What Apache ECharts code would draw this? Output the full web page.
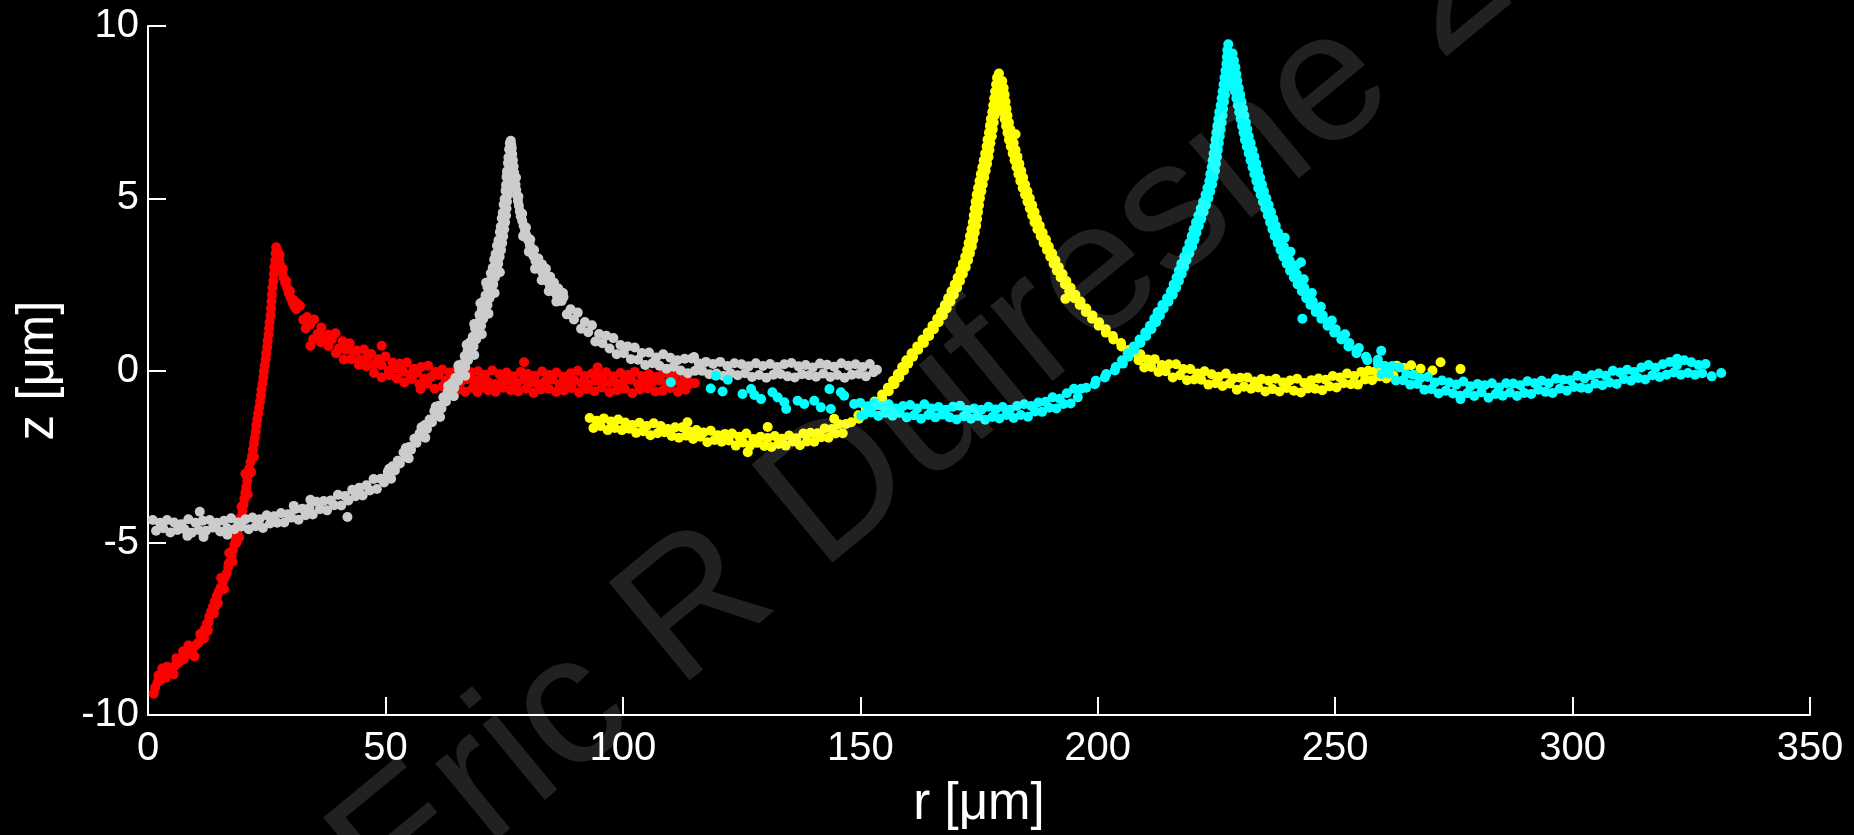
<!DOCTYPE html>
<html>
<head>
<meta charset="utf-8">
<title>z vs r</title>
<script src="https://cdn.jsdelivr.net/npm/echarts@6/dist/echarts.min.js"></script>
<style>
  html, body { margin: 0; padding: 0; background: #000; }
  #chart { width: 1854px; height: 835px; }
</style>
</head>
<body>
<div id="chart"></div>
<script>
// tick values
var rTicks = [0, 50, 100, 150, 200, 250, 300, 350];
var zTicks = [-10, -5, 0, 5, 10];

// ---- red particle: [r, z] in um ----
var redRise = [[1.2,-9.38],[1.5,-9.2],[2.0,-9.05],[2.2,-8.85],[2.6,-8.98],[3.1,-8.85],[3.7,-8.92],[4.0,-8.6],[4.3,-8.72],[5.0,-8.66],[5.6,-8.58],[6.0,-8.35],[6.3,-8.5],[6.9,-8.42],[7.5,-8.38],[8.1,-8.25],[8.5,-7.98],[8.8,-8.15],[9.4,-8.08],[10.0,-7.98],[10.6,-7.9],[11.0,-7.65],[11.2,-7.78],[11.6,-7.6],[12.0,-7.5],[12.4,-7.35],[12.8,-7.3],[12.9,-7.15],[13.3,-7.0],[13.7,-6.85],[14.1,-6.7],[14.2,-6.85],[14.5,-6.55],[14.9,-6.42],[15.3,-6.3],[15.6,-6.3],[15.8,-6.12],[16.2,-6.0],[16.6,-5.88],[16.9,-5.7],[17.0,-5.6],[17.3,-5.55],[17.6,-5.4],[17.9,-5.22],[18.2,-5.05],[18.5,-4.9],[18.6,-5.0],[18.8,-4.75],[19.0,-4.58],[19.3,-4.42],[19.6,-4.25],[19.9,-4.08],[20.1,-3.9],[20.3,-3.72],[20.5,-3.55],[20.7,-3.38],[20.9,-3.2],[21.1,-3.02],[21.3,-2.85],[21.6,-2.66],[21.9,-2.48],[22.1,-2.3],[22.3,-2.12],[22.5,-1.95],[22.7,-1.78],[22.8,-1.6],[23.0,-1.42],[23.2,-1.25],[23.4,-1.08],[23.6,-0.9],[23.8,-0.72],[23.9,-0.55],[24.1,-0.38],[24.3,-0.2],[24.4,-0.03],[24.6,0.15],[24.8,0.33],[24.9,0.5],[25.1,0.68],[25.2,0.86],[25.4,1.04],[25.5,1.22],[25.6,1.4],[25.8,1.6],[25.9,1.8],[26.0,2.0],[26.1,2.2],[26.2,2.4],[26.4,2.6],[26.5,2.8],[26.6,3.0],[26.8,3.2],[26.9,3.4],[27.0,3.58]];
var redRiseSide = [[3.0,-8.65],[5.4,-8.82],[7.4,-8.15],[9.8,-8.3],[11.8,-7.78],[12.6,-7.55],[14.7,-6.75],[13.9,-7.05],[16.0,-6.35],[15.4,-6.02],[17.8,-5.55],[17.1,-5.3],[19.2,-4.85],[18.5,-4.6],[20.3,-4.3],[19.7,-3.95],[21.0,-3.6],[20.5,-3.0],[21.7,-2.95],[22.3,-2.5]];
var redPeak = [[27.3,3.45],[27.7,3.35],[27.6,3.2],[27.9,3.05],[28.2,2.85],[28.4,2.95],[28.5,2.7],[28.9,2.55],[29.1,2.6],[29.3,2.4],[29.6,2.25],[29.9,2.3],[30.0,2.12],[30.4,1.98],[30.6,2.05],[30.8,1.88],[31.2,1.78],[31.4,1.95]];
var redUpper = [[32,1.87],[33.5,1.55],[35,1.48],[36.5,1.25],[38,1.04],[39.5,1.08],[41,0.85],[42.5,0.79],[44,0.58],[45.5,0.61],[47,0.48],[48.5,0.33],[50,0.41],[51.5,0.23],[53,0.2],[54.5,0.23],[56,0.05],[57.5,0.1],[59,0.14],[60.5,-0.04],[62,0.03],[63.5,-0.06],[65,0.03],[66.5,-0.11],[68,-0.05],[69.5,-0.02],[71,-0.12],[72.5,0],[74,-0.11],[75.5,-0.06],[77,-0.17],[78.5,-0.04],[80,-0.1],[81.5,-0.15],[83,-0.03],[84.5,-0.13],[86,-0.06],[87.5,-0.18],[89,-0.08],[90.5,-0.01],[92,-0.16],[93.5,-0.09],[95,-0.14],[96.5,-0.05],[98,-0.17],[99.5,-0.07],[101,-0.13],[102.5,-0.04],[104,-0.16],[105.5,-0.1],[107,-0.19],[108.5,-0.08],[110,-0.14],[111.5,-0.1],[113,-0.18]];
var redMid = [[32.7,1.47],[34.2,1.34],[35.7,1.06],[37.2,0.98],[38.7,0.91],[40.2,0.64],[41.7,0.6],[43.2,0.53],[44.7,0.32],[46.2,0.38],[47.7,0.18],[49.2,0.16],[50.7,-0.01],[52.2,0.06],[53.7,-0.03],[55.2,-0.12],[56.7,-0.06],[58.2,-0.23],[59.7,-0.18],[61.2,-0.13],[62.7,-0.3],[64.2,-0.23],[65.7,-0.37],[67.2,-0.25],[68.7,-0.3],[70.2,-0.25],[71.7,-0.34],[73.2,-0.39],[74.7,-0.27],[76.2,-0.3],[77.7,-0.37],[79.2,-0.25],[80.7,-0.34],[82.2,-0.39],[83.7,-0.3],[85.2,-0.26],[86.7,-0.41],[88.2,-0.32],[89.7,-0.28],[91.2,-0.36],[92.7,-0.39],[94.2,-0.29],[95.7,-0.24],[97.2,-0.35],[98.7,-0.38],[100.2,-0.31],[101.7,-0.27],[103.2,-0.4],[104.7,-0.3],[106.2,-0.34],[107.7,-0.28],[109.2,-0.37],[110.7,-0.31],[112.2,-0.39],[113.7,-0.29],[115.2,-0.37]];
var redLower = [[33.2,1.22],[34.8,0.91],[36.4,0.82],[38,0.71],[39.6,0.5],[41.2,0.32],[42.8,0.33],[44.4,0.16],[46,0.12],[47.6,-0.07],[49.2,-0.2],[50.8,-0.14],[52.4,-0.23],[54,-0.35],[55.6,-0.25],[57.2,-0.4],[58.8,-0.38],[60.4,-0.53],[62,-0.46],[63.6,-0.45],[65.2,-0.56],[66.8,-0.62],[68.4,-0.51],[70,-0.49],[71.6,-0.57],[73.2,-0.62],[74.8,-0.5],[76.4,-0.57],[78,-0.61],[79.6,-0.52],[81.2,-0.65],[82.8,-0.55],[84.4,-0.53],[86,-0.62],[87.6,-0.58],[89.2,-0.51],[90.8,-0.64],[92.4,-0.54],[94,-0.6],[95.6,-0.49],[97.2,-0.63],[98.8,-0.57],[100.4,-0.53],[102,-0.66],[103.6,-0.55],[105.2,-0.52],[106.8,-0.61],[108.4,-0.59],[110,-0.51],[111.6,-0.62],[113.2,-0.56]];
var redStray = [[34.2,0.72],[49.2,0.72],[57.4,-0.54],[69.4,-0.63],[79.2,0.24],[94.7,0.09],[110,-0.48],[114,-0.4]];

// ---- grey particle ----
var greyFlatA = [[1,-4.34],[2.5,-4.42],[4,-4.34],[5.5,-4.41],[7,-4.46],[8.5,-4.32],[10,-4.42],[11.5,-4.36],[13,-4.34],[14.5,-4.42],[16,-4.36],[17.5,-4.29],[19,-4.41],[20.5,-4.32],[22,-4.27],[23.5,-4.32],[25,-4.2],[26.5,-4.23],[28,-4.14],[29.5,-4.17],[31,-4.02],[32.5,-4.01],[34,-3.99],[35.5,-3.81],[37,-3.79],[38.5,-3.77],[40,-3.61],[41.5,-3.64],[43,-3.46],[44.5,-3.4],[46,-3.33],[47.5,-3.15],[49,-3.14],[50.5,-2.94]];
var greyFlatB = [[1.7,-4.65],[3.2,-4.58],[4.7,-4.7],[6.2,-4.63],[7.7,-4.61],[9.2,-4.71],[10.7,-4.63],[12.2,-4.65],[13.7,-4.56],[15.2,-4.67],[16.7,-4.58],[18.2,-4.61],[19.7,-4.53],[21.2,-4.61],[22.7,-4.52],[24.2,-4.57],[25.7,-4.44],[27.2,-4.42],[28.7,-4.41],[30.2,-4.27],[31.7,-4.33],[33.2,-4.2],[34.7,-4.18],[36.2,-4.03],[37.7,-4.06],[39.2,-3.91],[40.7,-3.92],[42.2,-3.77],[43.7,-3.65],[45.2,-3.63],[46.7,-3.48],[48.2,-3.44],[49.7,-3.25],[51.2,-3.14]];
var greyRiseA = [[50.5,-3.0],[51.5,-2.78],[52.6,-2.62],[53.8,-2.38],[55.0,-2.22],[56.1,-1.98],[57.2,-1.82],[58.3,-1.58],[59.3,-1.42],[60.3,-1.18],[61.3,-1.02],[62.2,-0.78],[63.1,-0.62],[63.9,-0.38],[64.7,-0.22],[65.5,0.02],[66.1,0.18],[66.7,0.42],[67.3,0.58],[67.8,0.82],[68.4,0.98],[68.9,1.22],[69.4,1.38],[69.8,1.62],[70.3,1.78],[70.7,2.02],[71.1,2.18],[71.5,2.42],[71.9,2.58],[72.2,2.82],[72.6,2.98],[72.9,3.22],[73.2,3.38],[73.5,3.62],[73.8,3.78],[74.1,4.02],[74.3,4.18],[74.5,4.42],[74.7,4.58],[74.9,4.82],[75.1,4.98],[75.3,5.22],[75.4,5.38],[75.5,5.62],[75.6,5.78],[75.8,6.02],[75.9,6.18],[76.05,6.42],[76.2,6.6]];
var greyRiseB = [[52.0,-2.9],[53.05,-2.7],[54.2,-2.5],[55.4,-2.3],[56.55,-2.1],[57.65,-1.9],[58.75,-1.7],[59.8,-1.5],[60.8,-1.3],[61.8,-1.1],[62.75,-0.9],[63.65,-0.7],[64.5,-0.5],[65.3,-0.3],[66.1,-0.1],[66.8,0.1],[67.4,0.3],[68.0,0.5],[68.55,0.7],[69.1,0.9],[69.65,1.1],[70.15,1.3],[70.6,1.5],[71.05,1.7],[71.5,1.9],[71.9,2.1],[72.3,2.3],[72.7,2.5],[73.05,2.7],[73.4,2.9],[73.75,3.1],[74.05,3.3],[74.35,3.5],[74.6,3.7],[74.8,3.9],[75.0,4.1],[75.2,4.3],[75.4,4.5],[75.5,4.7],[75.6,4.9],[75.8,5.1],[75.9,5.3],[76.0,5.5],[76.1,5.7],[76.2,5.9],[76.35,6.1],[76.4,6.3],[76.5,6.5],[76.4,6.67],[76.5,6.55]];
var greyRiseSide = [[50.8,-2.85],[54.9,-2.55],[54.3,-2.25],[58.4,-1.95],[57.6,-1.65],[61.5,-1.35],[60.6,-1.05],[64.4,-0.75],[63.2,-0.45],[66.8,-0.15],[65.4,0.15],[68.7,0.45],[67.1,0.75],[70.3,1.05],[68.7,1.35],[71.7,1.65],[70.0,1.95],[73.0,2.25],[71.2,2.55],[74.1,2.85]];
var greyFallNear = [[76.6,6.45],[76.7,6.28],[76.85,6.1],[77.0,5.92],[77.1,5.75],[77.25,5.58],[77.4,5.4],[77.55,5.24],[77.7,5.08],[77.9,4.92],[78.1,4.78],[78.3,4.62],[78.5,4.48],[78.8,4.35],[79.1,4.2],[79.4,4.05],[79.7,3.92],[80.0,3.8],[80.4,3.64],[80.8,3.48],[81.2,3.32],[81.6,3.18],[82.1,3.05],[82.6,2.94],[83.1,2.84],[83.6,2.74],[84.1,2.6],[84.6,2.48],[85.1,2.38],[85.6,2.28],[86.1,2.18],[86.6,2.1],[87.1,2.02],[77.5,5.6],[78.0,5.05],[78.8,4.55],[79.6,4.15],[80.5,3.8],[81.3,3.5],[82.2,3.25],[83.0,3.08],[83.8,2.95],[84.7,2.72],[85.5,2.55],[86.4,2.38],[87.4,2.25],[79.0,3.9],[80.2,3.45],[81.5,2.95],[82.9,2.62],[84.4,2.3],[86.0,2.0]];
var greyTailA = [[87.5,2.13],[89,1.78],[90.5,1.68],[92,1.41],[93.5,1.31],[95,1.06],[96.5,1.01],[98,0.94],[99.5,0.74],[101,0.7],[102.5,0.67],[104,0.51],[105.5,0.52],[107,0.38],[108.5,0.47],[110,0.37],[111.5,0.3],[113,0.34],[114.5,0.35],[116,0.2],[117.5,0.25],[119,0.19],[120.5,0.25],[122,0.13],[123.5,0.21],[125,0.18],[126.5,0.12],[128,0.21],[129.5,0.13],[131,0.19],[132.5,0.1],[134,0.18],[135.5,0.22],[137,0.12],[138.5,0.16],[140,0.09],[141.5,0.2],[143,0.17],[144.5,0.11],[146,0.21],[147.5,0.14],[149,0.18],[150.5,0.1],[152,0.19]];
var greyTailB = [[88.2,1.63],[89.7,1.48],[91.2,1.21],[92.7,1.11],[94.2,0.84],[95.7,0.79],[97.2,0.64],[98.7,0.47],[100.2,0.5],[101.7,0.33],[103.2,0.31],[104.7,0.16],[106.2,0.21],[107.7,0.14],[109.2,0.05],[110.7,0.11],[112.2,0],[113.7,-0.08],[115.2,-0.01],[116.7,-0.01],[118.2,-0.11],[119.7,-0.09],[121.2,-0.16],[122.7,-0.08],[124.2,-0.14],[125.7,-0.08],[127.2,-0.19],[128.7,-0.13],[130.2,-0.21],[131.7,-0.12],[133.2,-0.1],[134.7,-0.17],[136.2,-0.2],[137.7,-0.11],[139.2,-0.14],[140.7,-0.18],[142.2,-0.09],[143.7,-0.19],[145.2,-0.13],[146.7,-0.21],[148.2,-0.12],[149.7,-0.1],[151.2,-0.17],[153.5,0.02],[152.8,-0.05]];
var greyStray = [[10.9,-4.1],[30.7,-3.93],[34.2,-3.75],[8.3,-4.8],[11.7,-4.83],[16.7,-4.77],[42.0,-4.25],[115,0.39]];

// ---- yellow particle ----
var yellowFlatA = [[93,-1.38],[94.5,-1.46],[96,-1.39],[97.5,-1.48],[99,-1.42],[100.5,-1.51],[102,-1.58],[103.5,-1.52],[105,-1.61],[106.5,-1.53],[108,-1.61],[109.5,-1.7],[111,-1.65],[112.5,-1.65],[114,-1.77],[115.5,-1.73],[117,-1.8],[118.5,-1.75],[120,-1.88],[121.5,-1.84],[123,-1.83],[124.5,-1.92],[126,-1.83],[127.5,-1.99],[129,-1.92],[130.5,-1.96],[132,-1.9],[133.5,-1.98],[135,-1.89],[136.5,-1.97],[138,-1.83],[139.5,-1.81],[141,-1.82],[142.5,-1.68],[144,-1.7],[145.5,-1.56],[147,-1.55]];
var yellowFlatB = [[93.8,-1.67],[95.3,-1.61],[96.8,-1.73],[98.3,-1.67],[99.8,-1.73],[101.3,-1.69],[102.8,-1.81],[104.3,-1.76],[105.8,-1.88],[107.3,-1.82],[108.8,-1.79],[110.3,-1.9],[111.8,-1.95],[113.3,-1.89],[114.8,-1.99],[116.3,-1.92],[117.8,-2.08],[119.3,-2.02],[120.8,-2.07],[122.3,-2.03],[123.8,-2.18],[125.3,-2.09],[126.8,-2.18],[128.3,-2.1],[129.8,-2.19],[131.3,-2.22],[132.8,-2.13],[134.3,-2.18],[135.8,-2.06],[137.3,-2.17],[138.8,-2.06],[140.3,-2.07],[141.8,-1.94],[143.3,-1.95],[144.8,-1.83],[146.3,-1.82]];
var yellowRiseA = [[148.1,-1.5],[149.6,-1.3],[151.2,-1.1],[153.0,-0.9],[154.6,-0.7],[155.8,-0.5],[156.9,-0.3],[157.9,-0.1],[158.8,0.1],[159.7,0.3],[160.8,0.5],[162.0,0.7],[163.1,0.9],[164.2,1.1],[165.2,1.3],[166.2,1.5],[167.0,1.7],[167.8,1.9],[168.5,2.1],[169.2,2.3],[169.9,2.5],[170.5,2.7],[171.1,2.9],[171.6,3.1],[172.1,3.3],[172.5,3.5],[172.8,3.7],[173.1,3.9],[173.4,4.1],[173.7,4.3],[173.9,4.5],[174.1,4.7],[174.3,4.9],[174.5,5.1],[174.8,5.3],[175.1,5.5],[175.4,5.7],[175.7,5.9],[176.0,6.1],[176.3,6.3],[176.6,6.5],[176.8,6.7],[177.1,6.9],[177.3,7.1],[177.5,7.3],[177.8,7.5],[178.0,7.7],[178.2,7.9],[178.4,8.1],[178.6,8.3],[178.8,8.5]];
var yellowRiseB = [[149.7,-1.4],[151.2,-1.2],[152.9,-1.0],[154.6,-0.8],[156.0,-0.6],[157.2,-0.4],[158.2,-0.2],[159.2,0.0],[160.1,0.2],[161.1,0.4],[162.2,0.6],[163.4,0.8],[164.5,1.0],[165.5,1.2],[166.5,1.4],[167.4,1.6],[168.2,1.8],[169.0,2.0],[169.7,2.2],[170.4,2.4],[171.0,2.6],[171.6,2.8],[172.2,3.0],[172.7,3.2],[173.1,3.4],[173.5,3.6],[173.8,3.8],[174.1,4.0],[174.4,4.2],[174.6,4.4],[174.8,4.6],[175.0,4.8],[175.2,5.0],[175.5,5.2],[175.8,5.4],[176.1,5.6],[176.4,5.8],[176.7,6.0],[177.0,6.2],[177.2,6.4],[177.4,6.6],[177.7,6.8],[177.9,7.0],[178.1,7.2],[178.3,7.4],[178.5,7.6],[178.7,7.8],[178.8,8.0],[179.0,8.2],[179.1,8.4],[179.2,8.62]];
var yellowFallA = [[179.9,8.4],[180.2,8.2],[180.4,8.0],[180.6,7.8],[180.8,7.6],[181.0,7.4],[181.3,7.2],[181.6,7.0],[181.9,6.8],[182.3,6.6],[182.7,6.4],[183.1,6.2],[183.5,6.0],[183.9,5.8],[184.3,5.6],[184.7,5.4],[185.2,5.2],[185.7,5.0],[186.2,4.8],[186.7,4.6],[187.2,4.4],[187.8,4.2],[188.4,4.0],[189.1,3.8],[189.7,3.6],[190.4,3.4],[191.1,3.2],[191.8,3.0],[192.6,2.8],[193.4,2.6],[194.3,2.4],[195.3,2.2],[196.4,2.0],[197.6,1.8],[198.9,1.6],[200.3,1.4],[201.7,1.2],[203.2,1.0],[204.9,0.8],[206.7,0.6],[208.7,0.4]];
var yellowFallB = [[179.3,8.3],[179.5,8.1],[179.7,7.9],[179.9,7.7],[180.1,7.5],[180.4,7.3],[180.7,7.1],[181.0,6.9],[181.3,6.7],[181.7,6.5],[182.1,6.3],[182.5,6.1],[182.9,5.9],[183.3,5.7],[183.7,5.5],[184.2,5.3],[184.7,5.1],[185.2,4.9],[185.7,4.7],[186.2,4.5],[186.7,4.3],[187.3,4.1],[188.0,3.9],[188.6,3.7],[189.3,3.5],[190.0,3.3],[190.7,3.1],[191.4,2.9],[192.2,2.7],[193.1,2.5],[194.0,2.3],[195.1,2.1],[196.2,1.9],[197.5,1.7],[198.8,1.5],[200.2,1.3],[201.7,1.1],[203.3,0.9],[205.0,0.7],[206.9,0.5],[208.6,0.3]];
var yellowTailA = [[209,0.47],[210.5,0.32],[212,0.33],[213.5,0.16],[215,0.18],[216.5,0.18],[218,0.04],[219.5,0.04],[221,-0.09],[222.5,-0.02],[224,-0.11],[225.5,-0.18],[227,-0.09],[228.5,-0.23],[230,-0.21],[231.5,-0.2],[233,-0.32],[234.5,-0.25],[236,-0.3],[237.5,-0.24],[239,-0.35],[240.5,-0.29],[242,-0.24],[243.5,-0.36],[245,-0.28],[246.5,-0.23],[248,-0.27],[249.5,-0.16],[251,-0.2],[252.5,-0.09],[254,-0.16],[255.5,-0.04],[257,-0.01],[258.5,-0.02],[260,0.12],[261.5,0.06],[263,0.14],[264.5,0.07],[266,0.15]];
var yellowTailB = [[209.8,0.09],[211.3,0.1],[212.8,-0.04],[214.3,-0.02],[215.8,-0.2],[217.3,-0.14],[218.8,-0.28],[220.3,-0.26],[221.8,-0.27],[223.3,-0.41],[224.8,-0.37],[226.3,-0.45],[227.8,-0.38],[229.3,-0.56],[230.8,-0.47],[232.3,-0.53],[233.8,-0.49],[235.3,-0.61],[236.8,-0.54],[238.3,-0.61],[239.8,-0.51],[241.3,-0.59],[242.8,-0.64],[244.3,-0.52],[245.8,-0.53],[247.3,-0.57],[248.8,-0.46],[250.3,-0.49],[251.8,-0.37],[253.3,-0.4],[254.8,-0.41],[256.3,-0.26],[257.8,-0.28],[259.3,-0.17],[260.8,-0.23],[262.3,-0.15]];
var yellowStray = [[113.6,-1.5],[130.5,-1.64],[144.5,-1.4],[126.3,-2.37],[182.7,6.86],[193.2,2.08],[268,0.05],[270.5,0.0],[272.2,0.24],[276.4,0.04]];

// ---- cyan particle ----
var cyanStart = [[110.1,-0.34],[119.6,-0.15],[122.1,-0.27],[118.5,-0.52],[121,-0.61],[125.2,-0.68],[127,-0.54],[127.7,-0.71],[129.1,-0.83],[131.5,-0.63],[132.6,-0.78],[134,-0.92],[134.4,-1.12],[136.8,-0.88],[138.2,-0.97],[140.3,-0.88],[141.7,-1.07],[143.8,-1.12],[143.5,-0.54],[145.9,-0.63],[146.6,-0.73],[148.7,-0.97],[150.2,-1.31],[153,-1.02],[155.8,-1.17],[157.9,-1.21]];
var cyanFlatA = [[150,-0.94],[151.5,-1.04],[153,-0.94],[154.5,-1.03],[156,-0.98],[157.5,-1.1],[159,-1.03],[160.5,-1.0],[162,-1.1],[163.5,-0.98],[165,-1.1],[166.5,-1.06],[168,-1.14],[169.5,-1.05],[171,-1.02],[172.5,-1.15],[174,-1.1],[175.5,-1.14],[177,-1.05],[178.5,-1.13],[180,-1.06],[181.5,-1.14],[183,-1.03],[184.5,-0.98],[186,-1.03],[187.5,-0.93],[189,-0.91],[190.5,-0.78],[192,-0.82],[193.5,-0.66],[195,-0.53],[196.5,-0.53]];
var cyanFlatB = [[150.8,-1.28],[152.3,-1.22],[153.8,-1.32],[155.3,-1.23],[156.8,-1.31],[158.3,-1.23],[159.8,-1.36],[161.3,-1.3],[162.8,-1.4],[164.3,-1.29],[165.8,-1.36],[167.3,-1.28],[168.8,-1.36],[170.3,-1.42],[171.8,-1.33],[173.3,-1.4],[174.8,-1.32],[176.3,-1.43],[177.8,-1.35],[179.3,-1.39],[180.8,-1.29],[182.3,-1.38],[183.8,-1.29],[185.3,-1.34],[186.8,-1.19],[188.3,-1.2],[189.8,-1.08],[191.3,-1.1],[192.8,-0.97],[194.3,-0.96],[195.8,-0.78]];
var cyanRiseA = [[197.6,-0.5],[199.6,-0.3],[201.8,-0.1],[203.8,0.1],[205.1,0.3],[206.3,0.5],[207.6,0.7],[208.8,0.9],[210.0,1.1],[211.0,1.3],[211.9,1.5],[212.6,1.7],[213.6,1.9],[214.6,2.1],[215.4,2.3],[216.0,2.5],[216.6,2.7],[217.1,2.9],[217.6,3.1],[218.2,3.3],[218.8,3.5],[219.3,3.7],[219.8,3.9],[220.2,4.1],[220.7,4.3],[221.2,4.5],[221.7,4.7],[222.2,4.9],[222.7,5.1],[223.1,5.3],[223.5,5.5],[223.7,5.7],[224.0,5.9],[224.2,6.1],[224.4,6.3],[224.6,6.5],[224.8,6.7],[225.0,6.9],[225.2,7.1],[225.4,7.3],[225.6,7.5],[225.9,7.7],[226.1,7.9],[226.3,8.1],[226.5,8.3],[226.7,8.5],[226.9,8.7],[227.1,8.9],[227.2,9.1],[227.3,9.3],[227.5,9.47]];
var cyanRiseB = [[199.4,-0.4],[201.5,-0.2],[203.6,0.0],[205.3,0.2],[206.5,0.4],[207.8,0.6],[209.0,0.8],[210.2,1.0],[211.3,1.2],[212.3,1.4],[213.1,1.6],[213.9,1.8],[214.9,2.0],[215.8,2.2],[216.5,2.4],[217.1,2.6],[217.7,2.8],[218.2,3.0],[218.7,3.2],[219.3,3.4],[219.9,3.6],[220.4,3.8],[220.8,4.0],[221.3,4.2],[221.8,4.4],[222.3,4.6],[222.8,4.8],[223.3,5.0],[223.7,5.2],[224.1,5.4],[224.4,5.6],[224.7,5.8],[224.9,6.0],[225.1,6.2],[225.3,6.4],[225.5,6.6],[225.7,6.8],[225.9,7.0],[226.1,7.2],[226.3,7.4],[226.4,7.6],[226.6,7.8],[226.8,8.0],[227.0,8.2],[227.1,8.4],[227.2,8.6],[227.4,8.8],[227.5,9.0],[227.6,9.2]];
var cyanFallA = [[228.4,9.2],[228.7,9.0],[229.0,8.8],[229.2,8.6],[229.4,8.4],[229.7,8.2],[230.0,8.0],[230.3,7.8],[230.6,7.6],[230.9,7.4],[231.2,7.2],[231.5,7.0],[231.8,6.8],[232.2,6.6],[232.6,6.4],[233.0,6.2],[233.4,6.0],[233.8,5.8],[234.2,5.6],[234.6,5.4],[235.0,5.2],[235.5,5.0],[236.0,4.8],[236.5,4.6],[237.0,4.4],[237.5,4.2],[238.0,4.0],[238.6,3.8],[239.2,3.6],[239.8,3.4],[240.4,3.2],[241.1,3.0],[241.9,2.8],[242.7,2.6],[243.5,2.4],[244.4,2.2],[245.3,2.0],[246.3,1.8],[247.4,1.6],[248.7,1.4],[250.1,1.2],[251.5,1.0],[253.0,0.8],[254.5,0.6],[256.5,0.4],[259.0,0.2]];
var cyanFallB = [[227.6,9.1],[227.9,8.9],[228.1,8.7],[228.3,8.5],[228.6,8.3],[228.9,8.1],[229.2,7.9],[229.5,7.7],[229.8,7.5],[230.1,7.3],[230.4,7.1],[230.7,6.9],[231.0,6.7],[231.4,6.5],[231.8,6.3],[232.2,6.1],[232.6,5.9],[233.0,5.7],[233.4,5.5],[233.8,5.3],[234.3,5.1],[234.8,4.9],[235.3,4.7],[235.8,4.5],[236.3,4.3],[236.8,4.1],[237.3,3.9],[237.9,3.7],[238.5,3.5],[239.1,3.3],[239.8,3.1],[240.5,2.9],[241.3,2.7],[242.1,2.5],[243.0,2.3],[243.9,2.1],[244.8,1.9],[245.9,1.7],[247.1,1.5],[248.4,1.3],[249.8,1.1],[251.3,0.9],[252.8,0.7],[254.5,0.5],[256.8,0.3]];
var cyanFallC = [[239.4,3.85],[240.6,3.45],[241.8,3.05],[243.4,2.65],[245.1,2.25],[247.0,1.85],[249.3,1.45],[252.1,1.05],[255.0,0.65],[259.7,0.57],[242.8,3.14],[243.1,1.5]];
var cyanTailA = [[259,0.31],[260.5,0.13],[262,0.13],[263.5,0.09],[265,-0.11],[266.5,-0.12],[268,-0.22],[269.5,-0.19],[271,-0.35],[272.5,-0.29],[274,-0.35],[275.5,-0.41],[277,-0.32],[278.5,-0.46],[280,-0.39],[281.5,-0.43],[283,-0.37],[284.5,-0.49],[286,-0.37],[287.5,-0.38],[289,-0.43],[290.5,-0.31],[292,-0.37],[293.5,-0.3],[295,-0.37],[296.5,-0.24],[298,-0.27],[299.5,-0.28],[301,-0.15],[302.5,-0.23],[304,-0.14],[305.5,-0.09],[307,-0.15],[308.5,-0.01],[310,-0.06],[311.5,0.02],[313,-0.04],[314.5,0.09],[316,0.16],[317.5,0.08],[319,0.18],[320.5,0.25],[322,0.15],[323.5,0.3],[325,0.24],[326.5,0.16],[328,0.19]];
var cyanTailB = [[259.8,-0.11],[261.3,-0.09],[262.8,-0.29],[264.3,-0.28],[265.8,-0.41],[267.3,-0.39],[268.8,-0.56],[270.3,-0.54],[271.8,-0.67],[273.3,-0.59],[274.8,-0.67],[276.3,-0.73],[277.8,-0.66],[279.3,-0.74],[280.8,-0.63],[282.3,-0.79],[283.8,-0.68],[285.3,-0.73],[286.8,-0.64],[288.3,-0.74],[289.8,-0.65],[291.3,-0.68],[292.8,-0.56],[294.3,-0.62],[295.8,-0.65],[297.3,-0.53],[298.8,-0.59],[300.3,-0.48],[301.8,-0.5],[303.3,-0.52],[304.8,-0.38],[306.3,-0.43],[307.8,-0.35],[309.3,-0.39],[310.8,-0.25],[312.3,-0.3],[313.8,-0.22],[315.3,-0.26],[316.8,-0.14],[318.3,-0.19],[319.8,-0.12],[321.3,-0.06],[322.8,-0.12],[324.3,-0.07],[325.8,-0.12],[327.3,-0.08],[329.3,-0.17],[331.3,-0.07],[276.4,-0.83],[322,0.34]];

var red = [].concat(redRise, redRiseSide, redPeak, redUpper, redMid, redLower, redStray);
var grey = [].concat(greyFlatA, greyFlatB, greyRiseA, greyRiseB, greyRiseSide, greyFallNear, greyTailA, greyTailB, greyStray);
var yellow = [].concat(yellowFlatA, yellowFlatB, yellowRiseA, yellowRiseB, yellowFallA, yellowFallB, yellowTailA, yellowTailB, yellowStray);
var cyan = [].concat(cyanStart, cyanFlatA, cyanFlatB, cyanRiseA, cyanRiseB, cyanFallA, cyanFallB, cyanFallC, cyanTailA, cyanTailB);

var font = '"Liberation Sans", Arial, sans-serif';

function dots(name, data, color) {
  return {
    name: name,
    type: 'scatter',
    data: data,
    symbol: 'circle',
    symbolSize: 10,
    itemStyle: { color: color, opacity: 1 },
    silent: true
  };
}

var chart = echarts.init(document.getElementById('chart'));

var option = {
  backgroundColor: '#000',
  animation: false,
  grid: { left: 148, right: 44, top: 26, bottom: 118, containLabel: false },
  xAxis: {
    type: 'value',
    min: rTicks[0],
    max: rTicks[rTicks.length - 1],
    interval: 50,
    name: 'r [μm]',
    nameLocation: 'middle',
    nameGap: 64,
    nameTextStyle: { color: '#fff', fontSize: 51, fontFamily: font },
    axisLine: { show: true, onZero: false, lineStyle: { color: '#fff', width: 2 } },
    axisTick: { show: true, inside: true, length: 18, lineStyle: { color: '#fff', width: 2 } },
    axisLabel: { color: '#fff', fontSize: 40, fontFamily: font, margin: 14 },
    splitLine: { show: false }
  },
  yAxis: {
    type: 'value',
    min: zTicks[0],
    max: zTicks[zTicks.length - 1],
    interval: 5,
    name: 'z [μm]',
    nameLocation: 'middle',
    nameGap: 84,
    nameTextStyle: { color: '#fff', fontSize: 51, fontFamily: font },
    axisLine: { show: true, onZero: false, lineStyle: { color: '#fff', width: 2 } },
    axisTick: { show: true, inside: true, length: 18, lineStyle: { color: '#fff', width: 2 } },
    axisLabel: { color: '#fff', fontSize: 40, fontFamily: font, margin: 9 },
    splitLine: { show: false }
  },
  series: [
    dots('red', red, '#ff0000'),
    dots('grey', grey, '#cccccc'),
    dots('yellow', yellow, '#ffff00'),
    dots('cyan', cyan, '#00ffff')
  ],
  graphic: [{
    type: 'text',
    x: 360,
    y: 886,
    rotation: 39.5 * Math.PI / 180,
    z: 100,
    silent: true,
    style: {
      text: 'Eric R Dufresne 2012',
      font: '185px ' + font,
      fill: 'rgba(255,255,255,0.13)',
      align: 'left',
      verticalAlign: 'middle'
    }
  }]
};

chart.setOption(option);
</script>
</body>
</html>
